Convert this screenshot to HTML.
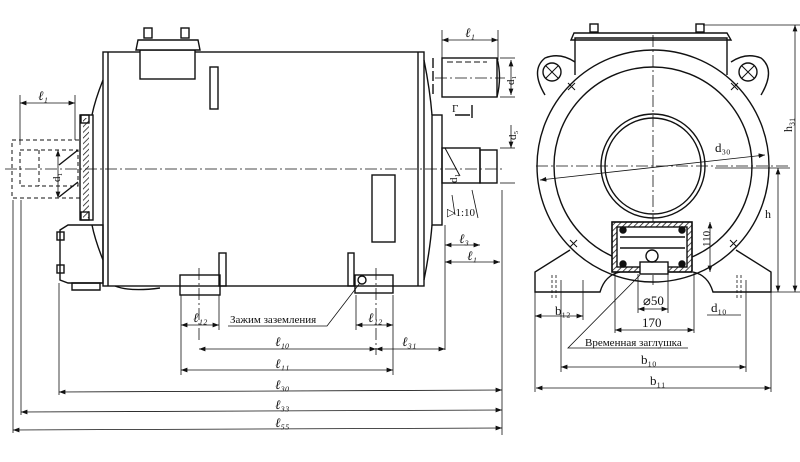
<!DOCTYPE html><html><head><style>body{margin:0;background:#fff}svg{display:block}text{font-family:"Liberation Serif",serif;fill:#111}</style></head><body>
<svg width="800" height="462" viewBox="0 0 800 462" xmlns="http://www.w3.org/2000/svg">
<defs><marker id="a" markerWidth="8" markerHeight="6" refX="8" refY="3" orient="auto-start-reverse"><path d="M0,0L8,3L0,6z" fill="#111"/></marker>
<pattern id="h" width="4" height="4" patternUnits="userSpaceOnUse" patternTransform="rotate(45)"><line x1="0" y1="0" x2="0" y2="4" stroke="#111" stroke-width="1.5"/></pattern></defs>
<g stroke="#111" stroke-width="1.4" fill="none">
<!-- left view body -->
<rect x="103" y="52" width="321" height="234"/>
<line x1="108" y1="52" x2="108" y2="286"/><line x1="418" y1="52" x2="418" y2="286"/>
<path d="M103,80 Q95,100 92,115 M103,260 Q95,240 92,225 M424,60 Q430,90 432,115 M424,280 Q430,250 432,225"/>
<rect x="140" y="50" width="55" height="29" fill="#fff"/>
<path d="M136,50 L138,40 H198 L200,50 Z" fill="#fff"/>
<rect x="144" y="28" width="8" height="10"/><rect x="181" y="28" width="8" height="10"/>
<rect x="210" y="67" width="8" height="42"/>
<rect x="372" y="175" width="23" height="67"/>
<rect x="80" y="115" width="13" height="105"/><rect x="83" y="118" width="6" height="100" fill="url(#h)" stroke="none"/>
<rect x="81" y="115" width="8" height="8"/><rect x="81" y="212" width="8" height="8"/>
<path d="M60,230 L68,225 H103 V283 H68 L60,280 Z"/>
<rect x="57" y="232" width="7" height="8"/><rect x="57" y="265" width="7" height="8"/>
<path d="M72,283 H100 V290 H72Z"/>
<path d="M115,286 Q130,292 160,288" />
<!-- dashed left shaft -->
<g stroke-dasharray="4,3" stroke-width="1"><rect x="12" y="140" width="68" height="58"/><rect x="20" y="150" width="58" height="36"/><line x1="39" y1="150" x2="39" y2="186"/></g>
<line x1="59" y1="165" x2="78" y2="150"/><line x1="59" y1="197" x2="78" y2="182"/>
<!-- right end -->
<rect x="432" y="115" width="10" height="110"/>
<rect x="442" y="148" width="38" height="35"/><rect x="480" y="150" width="17" height="33"/>
<line x1="445" y1="148" x2="460" y2="176" stroke-width="1"/>
<rect x="442" y="58" width="55" height="39"/><path d="M433,58 V97" stroke-dasharray="10,3"/>
<path d="M497,58 Q502,77 497,97"/>
<line x1="447" y1="62" x2="487" y2="62" stroke-dasharray="6,3" stroke-width="1"/>
<path d="M455,115 H470 M472,105 V118" /><!-- Г mark -->
<!-- feet -->
<rect x="180" y="275" width="40" height="20"/><rect x="219" y="253" width="7" height="33"/>
<rect x="355" y="275" width="38" height="18"/><rect x="348" y="253" width="6" height="33"/>
<circle cx="362" cy="280" r="4"/>
</g>
<!-- center/dash-dot lines -->
<g stroke="#111" stroke-width="0.8" stroke-dasharray="12,3,2,3" fill="none">
<line x1="5" y1="169" x2="505" y2="169"/><line x1="435" y1="78" x2="505" y2="78"/>
<line x1="199" y1="268" x2="199" y2="340"/><line x1="376" y1="268" x2="376" y2="355"/>
<line x1="536" y1="166" x2="790" y2="166"/><line x1="653" y1="35" x2="653" y2="285"/>
</g>
<!-- dimensions left -->
<g stroke="#111" stroke-width="0.8" fill="none">
<line x1="442" y1="30" x2="442" y2="60"/><line x1="498" y1="30" x2="498" y2="60"/>
<line x1="442" y1="40" x2="498" y2="40" marker-start="url(#a)" marker-end="url(#a)"/>
<line x1="500" y1="58" x2="515" y2="58"/><line x1="500" y1="97" x2="515" y2="97"/>
<line x1="511" y1="60" x2="511" y2="95" marker-start="url(#a)" marker-end="url(#a)"/>
<line x1="500" y1="148" x2="515" y2="148"/><line x1="500" y1="183" x2="515" y2="183"/>
<line x1="511" y1="125" x2="511" y2="148" marker-end="url(#a)"/>
<line x1="20" y1="95" x2="20" y2="145"/><line x1="75" y1="95" x2="75" y2="140"/>
<line x1="20" y1="103" x2="75" y2="103" marker-start="url(#a)" marker-end="url(#a)"/>
<line x1="58" y1="150" x2="58" y2="198" marker-start="url(#a)" marker-end="url(#a)"/>
<line x1="452" y1="195" x2="455" y2="215"/><line x1="472" y1="190" x2="478" y2="218"/>
<line x1="445" y1="245" x2="480" y2="245" marker-start="url(#a)" marker-end="url(#a)"/>
<line x1="445" y1="262" x2="500" y2="262" marker-start="url(#a)" marker-end="url(#a)"/>
<line x1="445" y1="225" x2="445" y2="350"/><line x1="502" y1="190" x2="502" y2="435"/>
<line x1="181" y1="295" x2="181" y2="375"/><line x1="219" y1="295" x2="219" y2="330"/>
<line x1="356" y1="295" x2="356" y2="330"/><line x1="393" y1="295" x2="393" y2="375"/>
<line x1="59" y1="283" x2="59" y2="395"/><line x1="21" y1="200" x2="21" y2="415"/><line x1="13" y1="200" x2="13" y2="433"/>
<line x1="181" y1="325" x2="219" y2="325" marker-start="url(#a)" marker-end="url(#a)"/>
<line x1="356" y1="325" x2="393" y2="325" marker-start="url(#a)" marker-end="url(#a)"/>
<line x1="199" y1="349" x2="376" y2="349" marker-start="url(#a)" marker-end="url(#a)"/>
<line x1="376" y1="349" x2="445" y2="349" marker-start="url(#a)" marker-end="url(#a)"/>
<line x1="181" y1="370" x2="393" y2="370" marker-start="url(#a)" marker-end="url(#a)"/>
<line x1="59" y1="392" x2="502" y2="390" marker-start="url(#a)" marker-end="url(#a)"/>
<line x1="21" y1="412" x2="502" y2="410" marker-start="url(#a)" marker-end="url(#a)"/>
<line x1="13" y1="430" x2="502" y2="428" marker-start="url(#a)" marker-end="url(#a)"/>
<path d="M228,326 H327 L360,283"/>
</g>
<g font-size="13" font-style="italic">
<text x="465" y="37">ℓ₁</text><text x="38" y="100">ℓ₁</text><text x="459" y="243">ℓ₃</text><text x="467" y="260">ℓ₁</text>
<text x="193" y="322">ℓ₁₂</text><text x="368" y="322">ℓ₁₂</text><text x="275" y="346">ℓ₁₀</text><text x="402" y="346">ℓ₃₁</text>
<text x="275" y="368">ℓ₁₁</text><text x="275" y="389">ℓ₃₀</text><text x="275" y="409">ℓ₃₃</text><text x="275" y="427">ℓ₅₅</text>
</g>
<g font-size="11"><text x="505" y="80" transform="rotate(-90 512 78)">d₁</text><text x="508" y="140" transform="rotate(-90 512 136)">d₅</text>
<text x="50" y="180" transform="rotate(-90 56 176)">d₁</text><text x="447" y="183" transform="rotate(-90 452 178)">d₁</text>
<text x="447" y="216">▷1:10</text><text x="452" y="112">Г</text>
<text x="230" y="323" font-size="11">Зажим заземления</text></g>
<!-- right view -->
<g stroke="#111" stroke-width="1.4" fill="none">
<path d="M575,75 V38 H727 V75"/><path d="M571,40 L574,33 H727 L731,40Z"/>
<rect x="590" y="24" width="8" height="8"/><rect x="696" y="24" width="8" height="8"/>
<path d="M545,95 Q530,70 545,58 Q560,52 575,62 M761,95 Q776,70 761,58 Q746,52 731,62"/>
<circle cx="552" cy="72" r="9"/><circle cx="748" cy="72" r="9"/>
<path d="M546,66 L558,78 M558,66 L546,78 M742,66 L754,78 M754,66 L742,78" stroke-width="1"/>
<circle cx="653" cy="166" r="116" fill="none"/><circle cx="653" cy="166" r="99"/>
<circle cx="653" cy="166" r="52"/><circle cx="653" cy="166" r="48"/>
<path d="M570,250 L535,272 V292 H600 Q605,275 620,272 M736,250 L771,272 V292 H713 Q708,275 693,272"/>
<rect x="612" y="222" width="80" height="50" fill="#fff"/>
<rect x="612" y="222" width="80" height="50" fill="url(#h)"/><rect x="617" y="227" width="70" height="40" fill="#fff"/>
<rect x="640" y="262" width="28" height="12" fill="#fff"/>
<line x1="620" y1="237" x2="685" y2="237"/><line x1="620" y1="248" x2="685" y2="248"/>
<circle cx="623" cy="230" r="3" fill="#111"/><circle cx="682" cy="230" r="3" fill="#111"/><circle cx="623" cy="264" r="3" fill="#111"/><circle cx="682" cy="264" r="3" fill="#111"/>
<circle cx="652" cy="256" r="6"/>
<path d="M568,83 L575,90 M575,83 L568,90 M731,83 L738,90 M738,83 L731,90 M570,240 L577,247 M577,240 L570,247 M730,240 L737,247 M737,240 L730,247" stroke-width="1"/>
</g>
<g stroke="#111" stroke-width="0.8" fill="none">
<line x1="540" y1="180" x2="765" y2="155" marker-start="url(#a)" marker-end="url(#a)"/>
<line x1="703" y1="25" x2="800" y2="25"/><line x1="715" y1="292" x2="800" y2="292"/><line x1="715" y1="168" x2="790" y2="168"/>
<line x1="795" y1="25" x2="795" y2="292" marker-start="url(#a)" marker-end="url(#a)"/>
<line x1="778" y1="168" x2="778" y2="292" marker-start="url(#a)" marker-end="url(#a)"/>
<line x1="710" y1="222" x2="710" y2="272" marker-start="url(#a)" marker-end="url(#a)"/>
<line x1="535" y1="292" x2="535" y2="392"/><line x1="583" y1="280" x2="583" y2="320"/><line x1="771" y1="292" x2="771" y2="392"/>
<line x1="561" y1="280" x2="561" y2="372"/><line x1="746" y1="280" x2="746" y2="372"/>
<line x1="615" y1="272" x2="615" y2="333"/><line x1="694" y1="272" x2="694" y2="333"/>
<line x1="638" y1="274" x2="638" y2="313"/><line x1="668" y1="274" x2="668" y2="313"/>
<line x1="535" y1="316" x2="583" y2="316" marker-start="url(#a)" marker-end="url(#a)"/>
<line x1="638" y1="309" x2="668" y2="309" marker-start="url(#a)" marker-end="url(#a)"/>
<line x1="615" y1="330" x2="694" y2="330" marker-start="url(#a)" marker-end="url(#a)"/>
<line x1="707" y1="315" x2="741" y2="315"/>
<line x1="561" y1="367" x2="746" y2="367" marker-start="url(#a)" marker-end="url(#a)"/>
<line x1="536" y1="388" x2="771" y2="388" marker-start="url(#a)" marker-end="url(#a)"/>
<path d="M688,348 H568 L640,275"/>
<path d="M552,275 V300 M556,275 V300 M737,275 V300 M741,275 V300" stroke-dasharray="3,2"/>
</g>
<g font-size="13"><text x="715" y="152">d₃₀</text><text x="555" y="315">b₁₂</text><text x="643" y="305">⌀50</text>
<text x="642" y="327">170</text><text x="711" y="312">d₁₀</text><text x="641" y="364">b₁₀</text><text x="650" y="385">b₁₁</text>
<text x="765" y="218" font-size="12">h</text><text x="585" y="346" font-size="11">Временная заглушка</text>
<text x="790" y="130" transform="rotate(-90 792 130)" font-size="12">h₃₁</text>
<text x="705" y="250" transform="rotate(-90 706 246)" font-size="11">110</text></g>
</svg></body></html>
